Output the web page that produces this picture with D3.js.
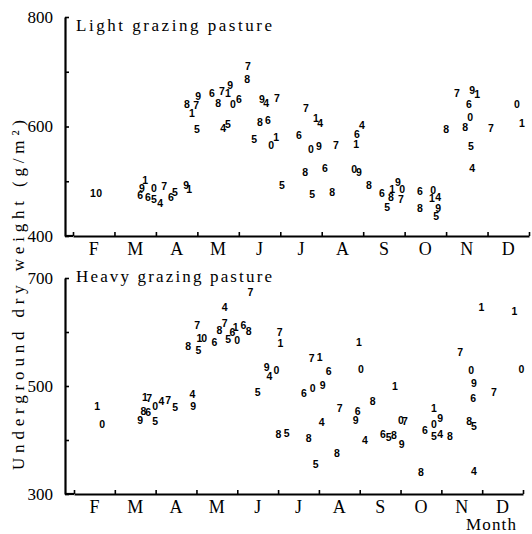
<!DOCTYPE html>
<html>
<head>
<meta charset="utf-8">
<script src="https://cdn.jsdelivr.net/npm/d3@7"></script>
<style>
  body { margin: 0; background: #fff; }
  .serif { font-family: "Liberation Serif", "DejaVu Serif", serif; }
  .pt { font-family: "Liberation Sans", Arial, sans-serif; font-weight: bold; font-size: 10.5px; }
</style>
</head>
<body>
<div id="chart"></div>
<script>
var months = ['F','M','A','M','J','J','A','S','O','N','D'];
var monthStart = [2,3,4,5,6,7,8,9,10,11,12,13];

// light grazing pasture: digit label, month position (2 = 1 Feb), dry weight g/m2
var lightLabels = ["1","0","1","9","0","6","6","5","4","7","6","5","9","1",
  "7","8","9","6","7","1","8","0","6","9","8","7","1","9","4","7","8","6","5","4","5","5","0","1","6","5",
  "7","1","4","0","9","7","4","6","1","8","6","0","9","5","8","8","6","1","9","0","8","5","7",
  "6","0","1","4","8","9","5","7","9","1","6","0","0","8","8","7","1","5","4"];
var lightMonth = [2.48,2.63,3.74,3.66,3.95,3.62,3.81,3.95,4.10,4.20,4.36,4.46,4.73,4.80,
  6.22,6.20,5.79,5.35,5.59,5.74,5.50,5.86,6.00,5.02,4.75,4.97,4.87,6.56,6.66,6.92,6.51,6.70,4.99,5.62,5.74,6.37,6.78,6.90,7.45,7.04,
  7.62,7.86,7.96,7.74,7.93,8.34,8.97,8.85,8.83,7.60,8.08,8.78,8.90,7.77,8.25,9.14,9.45,9.70,9.84,9.94,9.67,9.58,9.91,
  10.37,10.69,10.66,10.81,10.37,10.81,10.76,11.26,11.63,11.75,11.55,12.71,11.58,11.46,11.00,12.08,12.83,11.60,11.63];
var lightWeight = [478,478,502,488,488,475,471,468,460,491,471,480,493,486,
  710,687,676,661,665,661,643,641,650,656,641,639,625,650,643,652,608,612,595,597,605,577,566,581,584,493,
  634,616,606,559,564,566,603,586,568,517,524,522,517,477,480,493,479,486,499,486,471,453,468,
  482,484,469,471,451,451,437,661,667,659,641,641,617,599,595,597,606,564,524];

// heavy grazing pasture
var heavyLabels = ["1","0","1","7","0","4","7","5","8","6","9","5","4","9",
  "7","1","0","8","5","6","4","8","7","1","6","5","0","6","8","7","7","1","9","4","0","5",
  "7","1","6","0","1","6","0","9","7","6","9","4","8","5","8","8","5",
  "8","1","4","0","7","6","5","8","9","1","0","9","6","5","4","8","8","5","8","4",
  "1","1","7","0","0","9","7","6"];
var heavyMonth = [2.57,2.69,3.74,3.84,3.99,4.14,4.31,4.48,3.70,3.82,3.62,3.99,4.90,4.92,
  5.02,5.07,5.19,4.80,5.05,5.44,5.69,5.56,5.69,5.96,5.88,5.78,6.00,6.15,6.28,6.32,7.04,7.06,6.72,6.79,6.96,6.50,
  7.82,8.02,8.24,9.03,8.98,7.63,7.85,8.09,8.51,8.95,8.90,8.07,7.01,7.21,7.75,8.44,7.92,
  9.32,9.86,9.13,10.01,10.11,9.57,9.71,9.84,10.03,10.82,10.82,10.97,10.60,10.82,10.97,11.21,11.68,11.80,10.50,11.80,
  11.98,12.79,11.46,11.73,12.96,11.80,12.29,11.78];
var heavyWeight = [462,429,479,477,462,471,473,460,453,451,436,435,484,462,
  613,589,589,573,567,582,645,604,617,608,599,586,584,613,602,674,599,580,534,518,529,488,
  551,553,527,532,582,486,495,501,459,453,436,433,411,412,403,376,355,
  471,499,400,436,435,411,405,409,392,459,429,440,418,407,411,407,435,425,341,342,
  645,639,562,530,532,505,488,477];

var lightTicks = [400,500,600,700,800];
var heavyTicks = [300,400,500,600,700];

var width = 532, height = 534;
var axisX = 65;

var svg = d3.select('#chart').append('svg')
    .attr('width', width)
    .attr('height', height)
    .style('background', '#fff');

function drawPanel(cfg){
    var x = d3.scaleLinear().domain([2,13]).range(cfg.xRange);
    var y = d3.scaleLinear().domain(cfg.yDomain).range(cfg.yRange);
    var g = svg.append('g');

    //y axis with inward ticks
    var yAxis = d3.axisLeft(y)
        .tickValues(cfg.ticks)
        .tickSizeInner(-4)
        .tickSizeOuter(0)
        .tickPadding(12)
        .tickFormat(function(d){
            return (d - cfg.yDomain[0]) % 200 === 0 ? d : '';
        });
    g.append('g')
        .attr('transform', 'translate(' + axisX + ',0)')
        .call(yAxis)
        .call(styleAxis);

    //x axis, ticks pointing up
    var xAxis = d3.axisBottom(x)
        .tickValues(monthStart)
        .tickSizeInner(-4)
        .tickSizeOuter(0)
        .tickFormat('');
    g.append('g')
        .attr('transform', 'translate(0,' + cfg.yRange[0] + ')')
        .call(xAxis)
        .call(styleAxis);
    g.append('line')
        .attr('x1', axisX).attr('x2', cfg.xRange[0])
        .attr('y1', cfg.yRange[0]).attr('y2', cfg.yRange[0])
        .attr('stroke', '#000').attr('stroke-width', 2.2);

    //month letters between ticks
    g.selectAll('text.month')
        .data(months)
        .enter()
        .append('text')
        .attr('class', 'month serif')
        .attr('x', function(d, i){ return x(monthStart[i] + 0.5); })
        .attr('y', cfg.yRange[0] + 19)
        .attr('text-anchor', 'middle')
        .attr('font-size', 18)
        .text(function(d){ return d; });

    //panel title
    g.append('text')
        .attr('class', 'serif')
        .attr('x', 76)
        .attr('y', cfg.titleY)
        .attr('font-size', 17)
        .attr('textLength', 196)
        .attr('lengthAdjust', 'spacing')
        .text(cfg.title);

    //digit markers
    g.selectAll('text.pt')
        .data(cfg.labels)
        .enter()
        .append('text')
        .attr('class', 'pt')
        .attr('x', function(d, i){ return x(cfg.month[i]); })
        .attr('y', function(d, i){ return y(cfg.weight[i]); })
        .attr('text-anchor', 'middle')
        .attr('dy', '0.36em')
        .text(function(d){ return d; });
}

function styleAxis(sel){
    sel.select('.domain').attr('stroke-width', 2.2);
    sel.selectAll('.tick line').attr('stroke-width', 1.6);
    sel.selectAll('.tick text')
        .attr('font-family', '"Liberation Serif", serif')
        .attr('font-size', 17)
        .attr('fill', '#000');
}

drawPanel({
    title: 'Light grazing pasture',
    titleY: 31,
    labels: lightLabels, month: lightMonth, weight: lightWeight,
    ticks: lightTicks,
    yDomain: [400,800], yRange: [236,17],
    xRange: [73,529]
});

drawPanel({
    title: 'Heavy grazing pasture',
    titleY: 282,
    labels: heavyLabels, month: heavyMonth, weight: heavyWeight,
    ticks: heavyTicks,
    yDomain: [300,700], yRange: [494,278],
    xRange: [74,523]
});

//y axis title
svg.append('text')
    .attr('class', 'serif')
    .attr('transform', 'translate(24,295) rotate(-90)')
    .attr('text-anchor', 'middle')
    .attr('font-size', 17)
    .attr('textLength', 350)
    .attr('lengthAdjust', 'spacing')
    .text('Underground dry weight (g/m²)');

svg.append('text')
    .attr('class', 'serif')
    .attr('x', 466)
    .attr('y', 530)
    .attr('font-size', 17)
    .attr('textLength', 50)
    .attr('lengthAdjust', 'spacing')
    .text('Month');
</script>
</body>
</html>
